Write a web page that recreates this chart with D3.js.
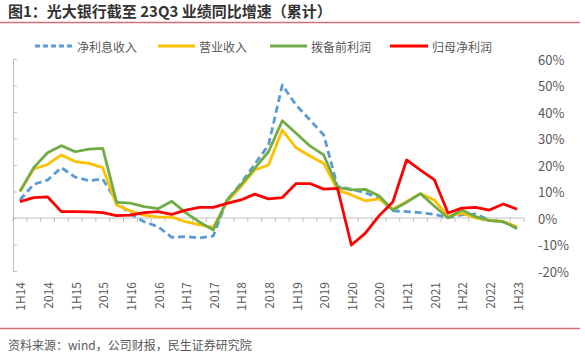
<!DOCTYPE html>
<html>
<head>
<meta charset="utf-8">
<script src="https://cdn.jsdelivr.net/npm/d3@7"></script>
<style>
html,body{margin:0;padding:0;background:#fff;}
svg{display:block;}
text{font-family:"Noto Sans CJK SC","Noto Sans",sans-serif;}
</style>
</head>
<body>
<svg id="chart" width="585" height="357"></svg>
<script>
const categories = ["1H14","3Q14","2014","1Q15","1H15","3Q15","2015","1Q16","1H16","3Q16","2016","1Q17","1H17","3Q17","2017","1Q18","1H18","3Q18","2018","1Q19","1H19","3Q19","2019","1Q20","1H20","3Q20","2020","1Q21","1H21","3Q21","2021","1Q22","1H22","3Q22","2022","1Q23","1H23"];
const tickLabels = ["1H14","2014","1H15","2015","1H16","2016","1H17","2017","1H18","2018","1H19","2019","1H20","2020","1H21","2021","1H22","2022","1H23"];
const yTicks = [-20,-10,0,10,20,30,40,50,60];
const seriesNames = ["净利息收入","营业收入","拨备前利润","归母净利润"];
const netInterestIncome = [6.8,12.7,14.3,19,15.4,14.1,14.7,6.2,1.5,-1.4,-3.3,-7.3,-7,-7.5,-6.8,6.8,13,20.3,27.5,50.2,42.6,37,31.3,11.8,10.9,9.5,7.5,2.7,2.4,2,1.4,0.2,1.2,1.5,-0.8,-1.5,-4];
const operatingIncome = [10,18.5,20.2,23.8,21.3,20.6,19,4.9,2.7,1.1,0.3,0.3,-1.4,-2.6,-3.5,6.2,11.8,18.1,20,33.2,26.5,23.4,20.6,10.5,8.7,6.5,7.2,3.3,6.2,9.2,6.8,0.6,1.8,0,-0.8,-1.3,-3.3];
const preProvisionProfit = [10,19,24.6,27.3,25,26,26.3,5.9,5.6,4.3,3.5,6.3,2,-1.5,-4.5,6.8,12.5,18.7,25,36.7,32,27.2,23.8,11.6,10.6,10.8,8.4,3,5.9,9.2,4.5,0,3,0.5,-1,-1.4,-3.9];
const netProfitAttr = [6.2,7.7,8,2.4,2.4,2.3,2,0.9,1.1,2,2.4,1.4,3,4,4,5.5,6.8,9,7.2,7.7,13,13,10.9,11.2,-10.2,-5.8,0.8,6,21.9,18.1,14.5,1.9,3.7,4,3,5.3,3.3];
const seriesColors = ["#5B9BD5","#FFC000","#70AD47","#FF0000"];

const svg = d3.select("#chart");
const axisColor = "#bfbfbf";
const textColor = "#595959";
const ruleColor = "#d46e77";

// Title
svg.append("text").attr("x",8).attr("y",17)
  .attr("font-size",15).attr("font-weight","bold").attr("fill","#333")
  .text("图1：光大银行截至 23Q3 业绩同比增速（累计）");
svg.append("line").attr("x1",0).attr("x2",580).attr("y1",22.5).attr("y2",22.5)
  .attr("stroke",ruleColor).attr("stroke-width",1.5);

// Footer
svg.append("line").attr("x1",0).attr("x2",580).attr("y1",328.5).attr("y2",328.5)
  .attr("stroke",ruleColor).attr("stroke-width",1.5);
svg.append("text").attr("x",8).attr("y",350)
  .attr("font-size",12).attr("fill",textColor)
  .text("资料来源：wind，公司财报，民生证券研究院");

// Scales
const x = d3.scaleBand().domain(categories).range([13,524]).padding(0);
const cx = d => x(d) + x.bandwidth()/2;
const y = d3.scaleLinear().domain([-20,60]).range([271,59]);

// Left axis (line + inner ticks, no labels)
const leftAxis = svg.append("g").attr("transform","translate(13,0)")
  .call(d3.axisRight(y).tickValues(yTicks).tickSize(4).tickFormat(""));
leftAxis.selectAll("path,line").attr("stroke",axisColor);

// Category axis at zero
const xAxis = svg.append("g").attr("transform",`translate(0,${y(0)})`);
xAxis.append("line").attr("x1",13).attr("x2",524).attr("y1",0).attr("y2",0).attr("stroke",axisColor);
const bounds = categories.map(c => x(c)).concat([x(categories[categories.length-1]) + x.bandwidth()]);
xAxis.selectAll("line.tk").data(bounds).enter().append("line").attr("class","tk")
  .attr("x1",d=>d).attr("x2",d=>d).attr("y1",0).attr("y2",4).attr("stroke",axisColor);

// Category labels at bottom, rotated
svg.selectAll("text.xl").data(tickLabels).enter().append("text").attr("class","xl")
  .attr("transform",d=>`translate(${cx(d)},282) rotate(-90)`)
  .attr("text-anchor","end").attr("dominant-baseline","central")
  .attr("font-size",12).attr("fill",textColor).text(d=>d);

// Right axis labels
svg.selectAll("text.yl").data(yTicks).enter().append("text").attr("class","yl")
  .attr("x",538).attr("y",d=>y(d)).attr("dominant-baseline","central")
  .attr("font-family","'Open Sans','Noto Sans',sans-serif")
  .attr("font-size",13).attr("fill",textColor).text(d=>d+"%");

// Lines
const allSeries = [netInterestIncome, operatingIncome, preProvisionProfit, netProfitAttr];
const line = d3.line().x((d,i)=>cx(categories[i])).y(d=>y(d));
allSeries.forEach((s,k)=>{
  svg.append("path").datum(s).attr("d",line)
    .attr("fill","none").attr("stroke",seriesColors[k]).attr("stroke-width",2.8)
    .attr("stroke-linejoin","round")
    .attr("stroke-dasharray", k===0 ? "7,4" : null);
});

// Legend
const legendItems = [
  {x1:35,x2:73,tx:77},
  {x1:158,x2:195,tx:199},
  {x1:270,x2:307,tx:311},
  {x1:390,x2:428,tx:432}
];
legendItems.forEach((it,k)=>{
  svg.append("line").attr("x1",it.x1).attr("x2",it.x2).attr("y1",46).attr("y2",46)
    .attr("stroke",seriesColors[k]).attr("stroke-width",2.8)
    .attr("stroke-dasharray", k===0 ? "5,3" : null);
  svg.append("text").attr("x",it.tx).attr("y",46).attr("dominant-baseline","central")
    .attr("font-size",12).attr("fill",textColor).text(seriesNames[k]);
});
</script>
</body>
</html>
